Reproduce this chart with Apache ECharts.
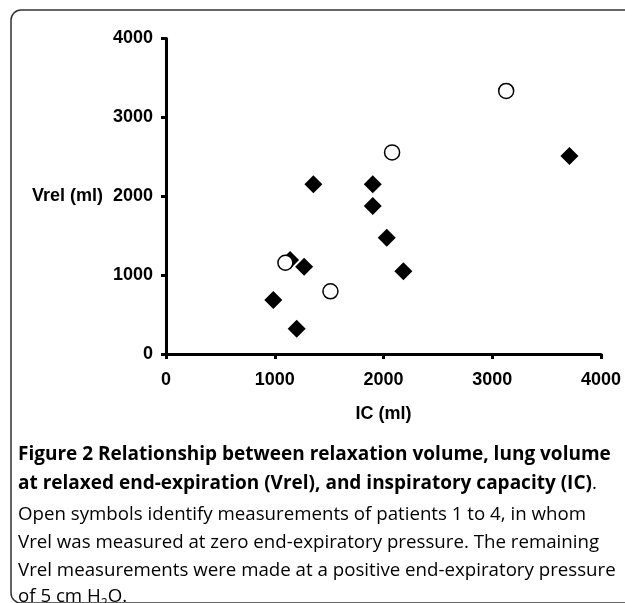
<!DOCTYPE html>
<html>
<head>
<meta charset="utf-8">
<script src="https://cdn.jsdelivr.net/npm/echarts@6/dist/echarts.min.js"></script>
<style>
html,body{margin:0;padding:0;background:#fff;}
#main{width:625px;height:603px;}
</style>
</head>
<body>
<div id="main"></div>
<script>
// Filled diamonds: PEEP 5 cm H2O measurements [IC (ml), Vrel (ml)]
const peepIC   = [1141, 1355, 1901, 1901, 2030, 2183, 1270, 987, 1202, 3710];
const peepVrel = [1191, 2151, 2151, 1876, 1474, 1048, 1107, 684, 321, 2510];
// Open circles: patients 1 to 4, zero end-expiratory pressure
const zeepIC   = [1098, 1512, 2079, 3128];
const zeepVrel = [1157, 795, 2556, 3335];
// Axis ticks
const xTicks = [0, 1000, 2000, 3000, 4000];
const yTicks = [0, 1000, 2000, 3000, 4000];
// Caption lines
const captionLines = [
  '{b|Figure 2 Relationship between relaxation volume, lung volume}',
  '{b|at relaxed end-expiration (Vrel), and inspiratory capacity (IC)}{r|.}',
  '{r|Open symbols identify measurements of patients 1 to 4, in whom}',
  '{r|Vrel was measured at zero end-expiratory pressure. The remaining}',
  '{r|Vrel measurements were made at a positive end-expiratory pressure}',
  '{r|of 5 cm H}{s|2}{r|O.}'
];

const peepData = peepIC.map((v, i) => [v, peepVrel[i]]);
const zeepData = zeepIC.map((v, i) => [v, zeepVrel[i]]);

const axisFont = {fontFamily: 'Liberation Sans, Arial, sans-serif', fontWeight: 'bold', fontSize: 18, color: '#000'};
const capY = [455, 484, 515, 543, 571, 597];
const richStyles = {
  b: {fontFamily: 'Open Sans', fontWeight: 'bold', fontSize: 19, color: '#111', lineHeight: 26},
  r: {fontFamily: 'Open Sans', fontWeight: 'normal', fontSize: 18.7, color: '#3c3c3c', lineHeight: 26},
  s: {fontFamily: 'Open Sans', fontWeight: 'normal', fontSize: 12, color: '#3c3c3c', lineHeight: 15, verticalAlign: 'bottom'}
};

const graphics = [{
  type: 'rect',
  shape: {x: 11, y: 10, width: 640, height: 593, r: 10},
  style: {fill: 'none', stroke: '#333', lineWidth: 1.5},
  silent: true
}];
captionLines.forEach((t, i) => {
  graphics.push({
    type: 'text', x: 18, y: capY[i],
    style: {text: t, rich: richStyles, verticalAlign: 'middle', align: 'left'}
  });
});

const plain = v => String(v);

const chart = echarts.init(document.getElementById('main'));
chart.setOption({
  animation: false,
  backgroundColor: '#fff',
  grid: {left: 166, right: 24, top: 38.5, bottom: 249},
  xAxis: {
    type: 'value', min: xTicks[0], max: xTicks[xTicks.length - 1], interval: 1000,
    name: 'IC (ml)', nameLocation: 'middle', nameGap: 51,
    nameTextStyle: axisFont,
    axisLine: {show: true, onZero: false, lineStyle: {color: '#000', width: 3}},
    axisTick: {show: true, length: 5, lineStyle: {color: '#000', width: 3}},
    axisLabel: Object.assign({margin: 17, formatter: plain}, axisFont),
    splitLine: {show: false}
  },
  yAxis: {
    type: 'value', min: yTicks[0], max: yTicks[yTicks.length - 1], interval: 1000,
    name: 'Vrel (ml)', nameLocation: 'middle', nameGap: 63, nameRotate: 0,
    nameTextStyle: Object.assign({align: 'right', verticalAlign: 'middle'}, axisFont),
    axisLine: {show: true, onZero: false, lineStyle: {color: '#000', width: 3}},
    axisTick: {show: true, length: 5, lineStyle: {color: '#000', width: 3}},
    axisLabel: Object.assign({margin: 13, formatter: plain}, axisFont),
    splitLine: {show: false}
  },
  series: [
    {
      type: 'scatter', data: peepData, symbol: 'diamond', symbolSize: [18, 18],
      itemStyle: {color: '#000', opacity: 1}
    },
    {
      type: 'scatter', data: zeepData, symbol: 'circle', symbolSize: 15,
      itemStyle: {color: '#fff', borderColor: '#000', borderWidth: 1.5, opacity: 1}
    }
  ],
  graphic: graphics
});
</script>
</body>
</html>
